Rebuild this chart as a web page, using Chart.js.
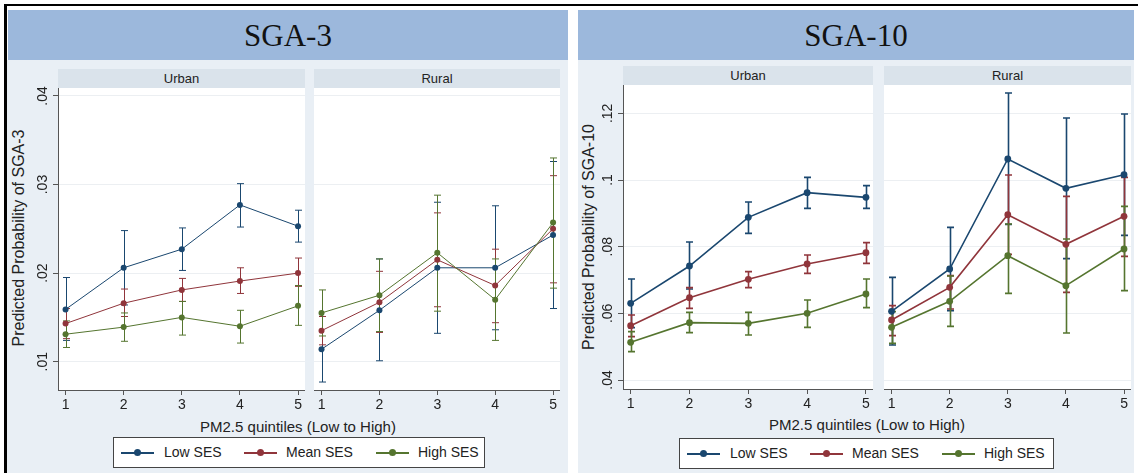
<!DOCTYPE html>
<html lang="en">
<head>
<meta charset="UTF-8">
<title>Predicted probability of SGA by PM2.5 quintile</title>
<script src="https://cdn.jsdelivr.net/npm/chart.js@4.4.1/dist/chart.umd.min.js"></script>
<style>
  body { margin: 0; width: 1138px; height: 473px; position: relative; overflow: hidden; background: #fff;
         font-family: "Liberation Sans", Arial, sans-serif; color: #222; }
  .abs { position: absolute; }
  .frame-top { left: 4px; top: 4px; width: 1134px; height: 2px; background: #000; }
  .frame-left { left: 4px; top: 4px; width: 3px; height: 469px; background: #000; }
  .panel { top: 60px; height: 413px; background: #e9eff5; }
  .header { top: 10px; height: 50px; background: #9cb8dc; font-family: "Liberation Serif", serif;
            font-size: 31px; color: #111; text-align: center; line-height: 52px; }
  .strip { height: 19px; background: #dae3eb; font-size: 13px; text-align: center; line-height: 19px; }
  .ytitle { width: 300px; height: 20px; line-height: 20px; font-size: 16px; text-align: center;
            white-space: nowrap; transform: rotate(-90deg); }
  .xtitle { width: 400px; height: 20px; line-height: 20px; font-size: 15px; text-align: center; }
  .legend { height: 29px; border: 1px solid #444; background: #fff; }
  .legend .mk { position: absolute; top: 14px; width: 33px; height: 2px; }
  .legend .dot { position: absolute; top: -3px; left: 13px; width: 7px; height: 7px; border-radius: 50%; }
  .legend .lab { position: absolute; top: 0; line-height: 29px; font-size: 14px; }
  canvas { position: absolute; }
</style>
</head>
<body>
  <div class="abs frame-top"></div>
  <div class="abs frame-left"></div>

  <div class="abs panel" style="left:7px; width:561px;"></div>
  <div class="abs panel" style="left:578px; width:556px;"></div>
  <div class="abs header" style="left:8px; width:560px;">SGA-3</div>
  <div class="abs header" style="left:578px; width:556px;">SGA-10</div>

  <div class="abs strip" style="left:58px; top:69px; width:247px;">Urban</div>
  <div class="abs strip" style="left:314px; top:69px; width:246px;">Rural</div>
  <div class="abs strip" style="left:623px; top:66px; width:250px;">Urban</div>
  <div class="abs strip" style="left:884px; top:66px; width:247px;">Rural</div>

  <div class="abs ytitle" style="left:-131px; top:228px;">Predicted Probability of SGA-3</div>
  <div class="abs ytitle" style="left:439px; top:227px;">Predicted Probability of SGA-10</div>
  <div class="abs xtitle" style="left:98px; top:417px;">PM2.5 quintiles (Low to High)</div>
  <div class="abs xtitle" style="left:667px; top:415px;">PM2.5 quintiles (Low to High)</div>

  <div class="abs legend" id="legend3" style="left:113px; top:437px; width:370px;"></div>
  <div class="abs legend" id="legend10" style="left:679px; top:438px; width:373px;"></div>

<script>
// x axis: PM2.5 quintiles
const quintiles = [1, 2, 3, 4, 5];
const xTickLabels = ['1', '2', '3', '4', '5'];

const seriesNames = ['Low SES', 'Mean SES', 'High SES'];
const seriesColors = ['#1a476f', '#90353b', '#55752f'];

const sga3Ticks = [0.01, 0.02, 0.03, 0.04];
const sga3TickLabels = ['.01', '.02', '.03', '.04'];
const sga10Ticks = [0.04, 0.06, 0.08, 0.10, 0.12];
const sga10TickLabels = ['.04', '.06', '.08', '.1', '.12'];

// SGA-3, urban
const sga3UrbanLow = [0.0159, 0.0206, 0.0227, 0.0277, 0.0253];
const sga3UrbanLowCI = [[0.0124, 0.0195], [0.0164, 0.0248], [0.0203, 0.0251], [0.0252, 0.0301], [0.0235, 0.0271]];
const sga3UrbanMean = [0.0143, 0.0166, 0.0181, 0.0191, 0.0200];
const sga3UrbanMeanCI = [[0.0126, 0.0160], [0.0151, 0.0182], [0.0168, 0.0194], [0.0177, 0.0206], [0.0185, 0.0217]];
const sga3UrbanHigh = [0.0131, 0.0139, 0.0150, 0.0140, 0.0163];
const sga3UrbanHighCI = [[0.0116, 0.0146], [0.0123, 0.0155], [0.0130, 0.0168], [0.0121, 0.0158], [0.0141, 0.0186]];

// SGA-3, rural
const sga3RuralLow = [0.0114, 0.0158, 0.0206, 0.0206, 0.0243];
const sga3RuralLowCI = [[0.0077, 0.0151], [0.0101, 0.0216], [0.0132, 0.0280], [0.0136, 0.0276], [0.0160, 0.0326]];
const sga3RuralMean = [0.0135, 0.0167, 0.0215, 0.0186, 0.0250];
const sga3RuralMeanCI = [[0.0119, 0.0151], [0.0133, 0.0202], [0.0162, 0.0268], [0.0144, 0.0227], [0.0189, 0.0310]];
const sga3RuralHigh = [0.0155, 0.0175, 0.0223, 0.0170, 0.0257];
const sga3RuralHighCI = [[0.0129, 0.0181], [0.0134, 0.0216], [0.0157, 0.0288], [0.0124, 0.0216], [0.0183, 0.0330]];

// SGA-10, urban
const sga10UrbanLow = [0.0630, 0.0742, 0.0888, 0.0962, 0.0948];
const sga10UrbanLowCI = [[0.0557, 0.0703], [0.0673, 0.0814], [0.0840, 0.0934], [0.0915, 0.1008], [0.0915, 0.0983]];
const sga10UrbanMean = [0.0563, 0.0647, 0.0702, 0.0748, 0.0782];
const sga10UrbanMeanCI = [[0.0530, 0.0595], [0.0615, 0.0677], [0.0677, 0.0725], [0.0720, 0.0775], [0.0750, 0.0812]];
const sga10UrbanHigh = [0.0513, 0.0572, 0.0570, 0.0600, 0.0658];
const sga10UrbanHighCI = [[0.0485, 0.0545], [0.0542, 0.0603], [0.0535, 0.0603], [0.0558, 0.0640], [0.0617, 0.0703]];

// SGA-10, rural
const sga10RuralLow = [0.0606, 0.0733, 0.1063, 0.0975, 0.1016];
const sga10RuralLowCI = [[0.0505, 0.0708], [0.0608, 0.0858], [0.0867, 0.1261], [0.0764, 0.1186], [0.0834, 0.1198]];
const sga10RuralMean = [0.0580, 0.0678, 0.0896, 0.0807, 0.0891];
const sga10RuralMeanCI = [[0.0533, 0.0623], [0.0613, 0.0713], [0.0777, 0.1015], [0.0663, 0.0951], [0.0771, 0.1008]];
const sga10RuralHigh = [0.0558, 0.0636, 0.0773, 0.0683, 0.0793];
const sga10RuralHighCI = [[0.0510, 0.0605], [0.0561, 0.0712], [0.0660, 0.0868], [0.0541, 0.0823], [0.0668, 0.0921]];

Chart.defaults.font.family = '"Liberation Sans", Arial, sans-serif';
Chart.defaults.color = '#222';

// white plot region behind everything
const plotBg = {
  id: 'plotBg',
  beforeDraw(chart) {
    const { ctx, chartArea: a } = chart;
    ctx.save();
    ctx.fillStyle = '#fff';
    ctx.fillRect(a.left, a.top, a.right - a.left, a.bottom - a.top);
    ctx.restore();
  }
};

// capped confidence intervals, drawn under the lines
const ciBars = {
  id: 'ciBars',
  beforeDatasetsDraw(chart) {
    const { ctx, scales: { y } } = chart;
    chart.data.datasets.forEach((ds, i) => {
      const meta = chart.getDatasetMeta(i);
      ctx.save();
      ctx.strokeStyle = ds.borderColor;
      ctx.lineWidth = ds.ciWidth;
      meta.data.forEach((pt, j) => {
        const x = Math.round(pt.x) + 0.5;
        const lo = y.getPixelForValue(ds.ci[j][0]);
        const hi = y.getPixelForValue(ds.ci[j][1]);
        ctx.beginPath();
        ctx.moveTo(x, lo); ctx.lineTo(x, hi);
        ctx.moveTo(x - 3.5, lo); ctx.lineTo(x + 3.5, lo);
        ctx.moveTo(x - 3.5, hi); ctx.lineTo(x + 3.5, hi);
        ctx.stroke();
      });
      ctx.restore();
    });
  }
};

const Y_AXIS_W = 33;
const X_AXIS_H = 26;
const TOP_PAD = 12;

function drawPanel(plot, range, ticks, tickLabels, showY, est, ci, lw, radius) {
  const canvas = document.createElement('canvas');
  const left = showY ? plot.l - Y_AXIS_W : plot.l;
  const w = plot.r - left;
  const h = plot.b - plot.t + X_AXIS_H + TOP_PAD;
  canvas.width = w; canvas.height = h;
  canvas.style.left = left + 'px';
  canvas.style.top = (plot.t - TOP_PAD) + 'px';
  document.body.appendChild(canvas);

  const datasets = est.map((vals, s) => ({
    label: seriesNames[s],
    data: quintiles.map((q, k) => ({ x: q, y: vals[k] })),
    ci: ci[s],
    ciWidth: lw,
    borderColor: seriesColors[s],
    backgroundColor: seriesColors[s],
    borderWidth: lw,
    pointRadius: radius,
    pointBorderWidth: 0,
    tension: 0,
    order: 3 - s
  }));

  new Chart(canvas, {
    type: 'line',
    data: { datasets },
    options: {
      responsive: false,
      animation: false,
      devicePixelRatio: 1,
      layout: { autoPadding: false, padding: { top: TOP_PAD } },
      plugins: { legend: { display: false }, tooltip: { enabled: false } },
      scales: {
        x: {
          type: 'linear', min: 0.87, max: 5.12,
          afterBuildTicks: s => { s.ticks = quintiles.map(v => ({ value: v })); },
          afterFit: s => { s.height = X_AXIS_H; },
          ticks: { callback: (v, i) => xTickLabels[i], font: { size: 14 }, padding: 2, maxRotation: 0 },
          grid: { drawOnChartArea: false, tickLength: 5, tickColor: '#555' },
          border: { color: '#555' }
        },
        y: {
          min: range[0], max: range[1],
          afterBuildTicks: s => { s.ticks = ticks.map(v => ({ value: v })); },
          afterFit: s => { s.width = showY ? Y_AXIS_W : 0; },
          ticks: { display: showY, callback: (v, i) => tickLabels[i], font: { size: 14 },
                   minRotation: 90, maxRotation: 90, crossAlign: 'center', padding: 0 },
          grid: { color: '#eceff2', drawTicks: showY, tickLength: 5, tickColor: '#555' },
          border: { display: showY, color: '#555' }
        }
      }
    },
    plugins: [plotBg, ciBars]
  });
}

const sga3Range = [0.0068, 0.0409];
const sga10Range = [0.0373, 0.1285];

drawPanel({ l: 58, t: 88, r: 305, b: 390 }, sga3Range, sga3Ticks, sga3TickLabels, true,
  [sga3UrbanLow, sga3UrbanMean, sga3UrbanHigh], [sga3UrbanLowCI, sga3UrbanMeanCI, sga3UrbanHighCI], 1, 3);
drawPanel({ l: 314, t: 88, r: 560, b: 390 }, sga3Range, sga3Ticks, sga3TickLabels, false,
  [sga3RuralLow, sga3RuralMean, sga3RuralHigh], [sga3RuralLowCI, sga3RuralMeanCI, sga3RuralHighCI], 1, 3);
drawPanel({ l: 623, t: 85, r: 873, b: 389 }, sga10Range, sga10Ticks, sga10TickLabels, true,
  [sga10UrbanLow, sga10UrbanMean, sga10UrbanHigh], [sga10UrbanLowCI, sga10UrbanMeanCI, sga10UrbanHighCI], 1.6, 3.4);
drawPanel({ l: 884, t: 85, r: 1131, b: 389 }, sga10Range, sga10Ticks, sga10TickLabels, false,
  [sga10RuralLow, sga10RuralMean, sga10RuralHigh], [sga10RuralLowCI, sga10RuralMeanCI, sga10RuralHighCI], 1.6, 3.4);

// legends under each figure
const markerX = [7, 130, 262];
const labelX = [50, 172, 304];
['legend3', 'legend10'].forEach(id => {
  const box = document.getElementById(id);
  seriesNames.forEach((name, s) => {
    const mk = document.createElement('div');
    mk.className = 'mk';
    mk.style.left = markerX[s] + 'px';
    mk.style.background = seriesColors[s];
    const dot = document.createElement('div');
    dot.className = 'dot';
    dot.style.background = seriesColors[s];
    mk.appendChild(dot);
    const lab = document.createElement('div');
    lab.className = 'lab';
    lab.style.left = labelX[s] + 'px';
    lab.textContent = name;
    box.appendChild(mk);
    box.appendChild(lab);
  });
});
</script>
</body>
</html>
